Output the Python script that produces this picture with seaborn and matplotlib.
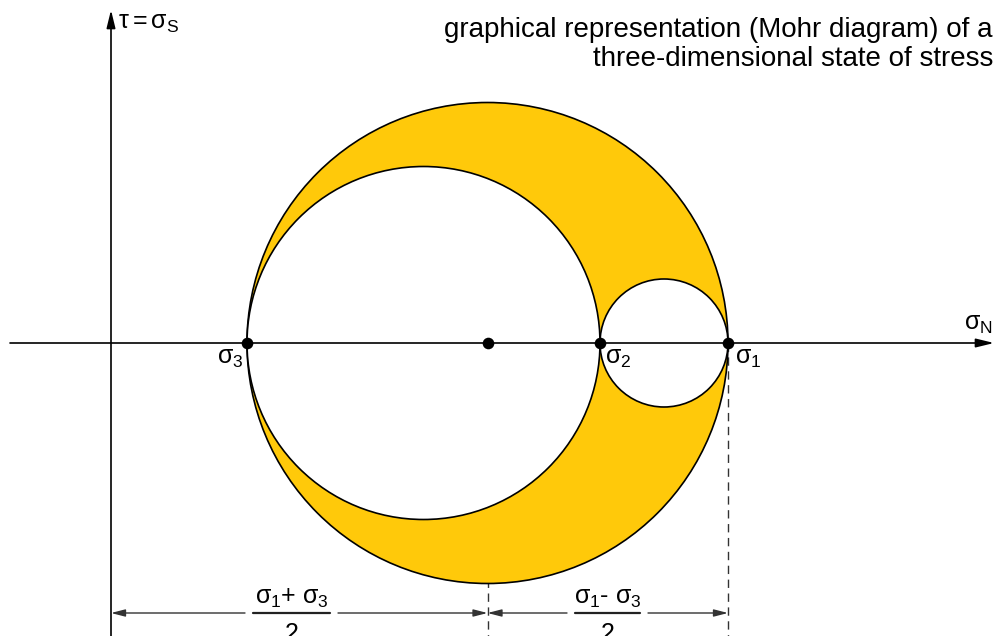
import numpy as np
import pandas as pd
import matplotlib
matplotlib.use("Agg")
import matplotlib.pyplot as plt
from matplotlib.patches import Circle
import seaborn as sns

# Principal stresses (same arbitrary units as the drawing axes)
sigma_3 = 136.0
sigma_2 = 489.0
sigma_1 = 617.0
stress_names = ["σ3", "σ2", "σ1"]
stress_values = [sigma_3, sigma_2, sigma_1]

title_lines = ["graphical representation (Mohr diagram) of a",
               "three-dimensional state of stress"]

sns.set_theme(style="white")
plt.rcParams["font.family"] = ["Liberation Sans", "DejaVu Sans"]
plt.rcParams["text.color"] = "black"
plt.rcParams["mathtext.fontset"] = "custom"
plt.rcParams["mathtext.rm"] = "Liberation Sans"
plt.rcParams["mathtext.it"] = "Liberation Sans"
plt.rcParams["mathtext.bf"] = "Liberation Sans:bold"

fig = plt.figure(figsize=(9.96, 6.36), dpi=100)
ax = fig.add_axes([0, 0, 1, 1])
ax.set_xlim(-111, 885)
ax.set_ylim(-293, 343)
ax.set_aspect("equal")
ax.axis("off")

yellow = "#FFC90A"
center = (sigma_1 + sigma_3) / 2
radius = (sigma_1 - sigma_3) / 2

# Mohr circles: the outer one filled, the two inner ones left white
ax.add_patch(Circle((center, 0), radius, facecolor=yellow, edgecolor="black",
                    lw=1.2, zorder=1))
ax.add_patch(Circle(((sigma_2 + sigma_3) / 2, 0), (sigma_2 - sigma_3) / 2,
                    facecolor="white", edgecolor="black", lw=1.2, zorder=2))
ax.add_patch(Circle(((sigma_1 + sigma_2) / 2, 0), (sigma_1 - sigma_2) / 2,
                    facecolor="white", edgecolor="black", lw=1.2, zorder=2))

# Coordinate axes with arrowheads
axis_arrow = dict(arrowstyle="-|>,head_length=0.9,head_width=0.22",
                  color="black", lw=1.2, shrinkA=0, shrinkB=0)
ax.annotate("", xy=(883, 0), xytext=(-101, 0), arrowprops=axis_arrow, zorder=3)
ax.annotate("", xy=(0, 333), xytext=(0, -293), arrowprops=axis_arrow, zorder=3)

# Points on the sigma axis: principal stresses and the centre of the large circle
pts = pd.DataFrame({"x": [sigma_3, center, sigma_2, sigma_1], "y": [0, 0, 0, 0]})
sns.scatterplot(data=pts, x="x", y="y", s=70, color="black", edgecolor="black",
                linewidth=0, ax=ax, zorder=5, legend=False)

fs = 18
ax.text(7, 320, r"$\tau = \sigma_\mathrm{S}$", fontsize=fs, ha="left",
        va="center")
ax.text(867, 19, r"$\sigma_\mathrm{N}$", fontsize=fs, ha="center", va="center")
ax.text(sigma_3 - 17, -15, r"$\sigma_3$", fontsize=fs, ha="center", va="center")
ax.text(sigma_2 + 18, -15, r"$\sigma_2$", fontsize=fs, ha="center", va="center")
ax.text(sigma_1 + 20, -15, r"$\sigma_1$", fontsize=fs, ha="center", va="center")

ax.text(882, 326, "\n".join(title_lines), fontsize=20, ha="right",
        va="top", linespacing=1.15)

# Dimension lines below the circles
dash_col = "#333333"
y_dim = -270
for xv in (center, sigma_1):
    ax.plot([xv, xv], [0, -293], color=dash_col, lw=1.0,
            dashes=(6, 4), zorder=0)

dim_arrow = dict(arrowstyle="-|>,head_length=0.7,head_width=0.18",
                 color=dash_col, lw=1.0, shrinkA=0, shrinkB=0)


def dimension(x0, x1, gap_l, gap_r, numerator):
    ax.annotate("", xy=(x0, y_dim), xytext=(gap_l, y_dim), arrowprops=dim_arrow)
    ax.annotate("", xy=(x1, y_dim), xytext=(gap_r, y_dim), arrowprops=dim_arrow)
    mid = (gap_l + gap_r) / 2
    ax.plot([gap_l + 8, gap_r - 8], [y_dim, y_dim], color="#222222", lw=1.6)
    ax.text(mid, y_dim + 15, numerator, fontsize=fs, ha="center", va="center")
    ax.text(mid, y_dim - 21, "2", fontsize=fs, ha="center", va="center")


dimension(0, center, 134, 227, r"$\sigma_1$+ $\sigma_3$")
dimension(center, sigma_1, 456, 537, r"$\sigma_1$- $\sigma_3$")

fig.savefig("out.png", dpi=100)
